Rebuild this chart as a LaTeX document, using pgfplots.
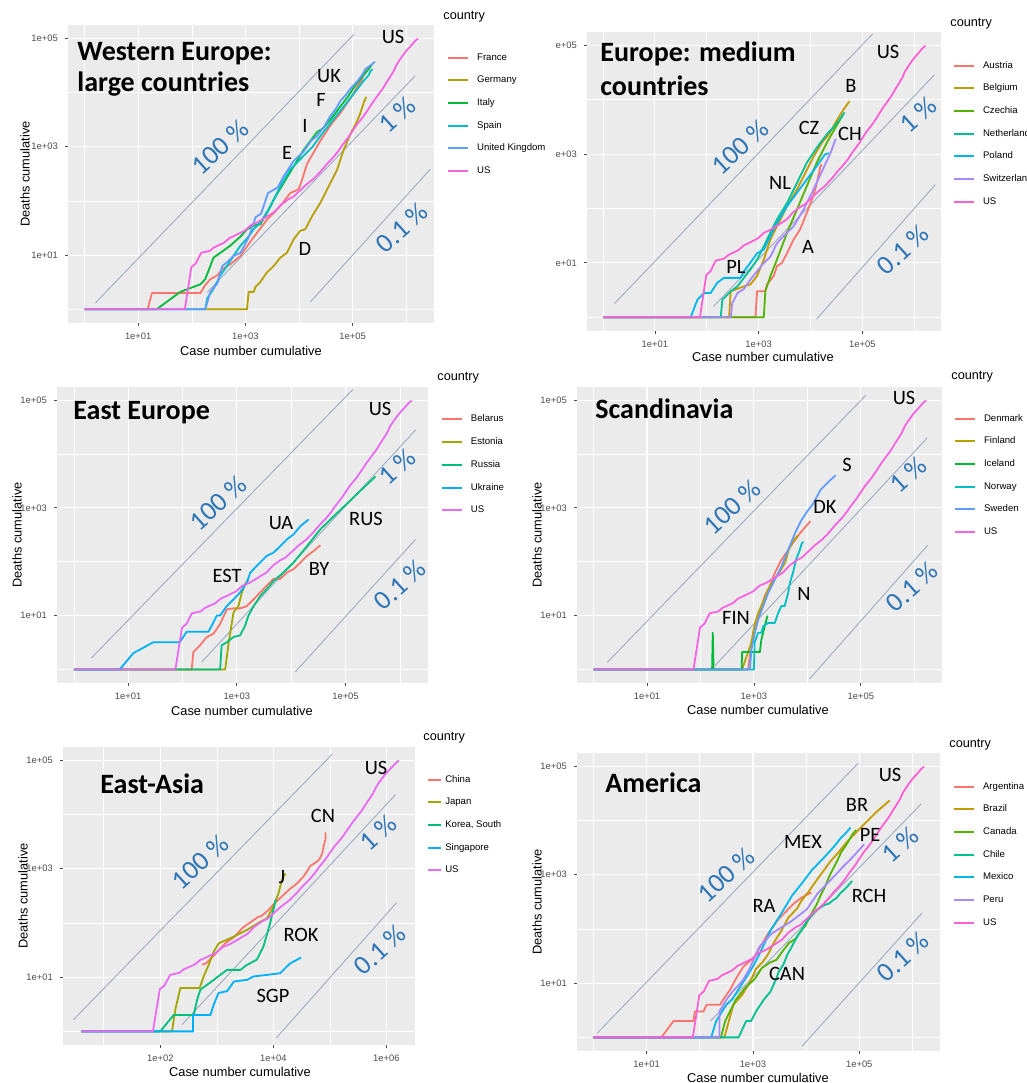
\documentclass[border=0pt]{standalone}
\usepackage{fontspec}
\usepackage{pgfplots}
\pgfplotsset{compat=1.18}
\newfontfamily\ggf{Liberation Sans}
\newfontfamily\calfont{Carlito}
\definecolor{ggbg}{HTML}{EBEBEB}
\definecolor{ggtk}{HTML}{4D4D4D}
\definecolor{reflc}{HTML}{A2B0C8}
\definecolor{pctb}{HTML}{2E75B6}
\definecolor{cA}{HTML}{F8766D}
\definecolor{sB}{HTML}{B79F00}
\definecolor{sC}{HTML}{00BA38}
\definecolor{sD}{HTML}{00BFC4}
\definecolor{sE}{HTML}{619CFF}
\definecolor{sF}{HTML}{F564E3}
\definecolor{tB}{HTML}{C49A00}
\definecolor{tC}{HTML}{53B400}
\definecolor{tD}{HTML}{00C094}
\definecolor{tE}{HTML}{00B6EB}
\definecolor{tF}{HTML}{A58AFF}
\definecolor{tG}{HTML}{FB61D7}
\definecolor{fB}{HTML}{A3A500}
\definecolor{fC}{HTML}{00BF7D}
\definecolor{fD}{HTML}{00B0F6}
\definecolor{fE}{HTML}{E76BF3}
\pgfplotsset{
  every axis/.append style={
    scale only axis, xmode=log, ymode=log,
    axis background/.style={fill=ggbg},
    axis line style={draw=none},
    xtick pos=left, ytick pos=left,
    tick align=outside, major tick length=1.6pt, minor tick length=0pt,
    tick style={ggtk, line width=0.4pt},
    grid=both, major grid style={white, line width=0.55pt}, minor grid style={white, line width=0.3pt},
    ymin=0.56, ymax=1.75e5,
    ytick={10,1000,100000}, minor ytick={1,100,10000},
    yticklabels={\mbox{1e+01},\mbox{1e+03},\mbox{1e+05}},
    xmin=0.49, xmax=3.3e6, xtick={10,1000,100000}, minor xtick={1,100,10000,1000000},
    xticklabels={\mbox{1e+01},\mbox{1e+03},\mbox{1e+05}},
    tick label style={font=\ggf\fontsize{4.7}{5}\selectfont, text=ggtk},
    xticklabel style={yshift=0pt},
    legend cell align=left,
    legend style={draw=none, fill=none, inner sep=0pt, outer sep=0pt, anchor=north west,
      row sep=7.05pt, column sep=4pt, font=\ggf\fontsize{4.8}{5}\selectfont,
      nodes={inner sep=0pt, text height=3.4pt, text depth=0.9pt}},
  },
  every axis plot/.append style={line width=0.9pt, line join=round},
}
\tikzset{
  refl/.style={reflc, line width=0.5pt},
  cl/.style={font=\calfont\fontsize{10.2}{11}\selectfont, inner sep=0pt, anchor=center},
  pc/.style={font=\calfont\fontsize{13.5}{14}\selectfont, text=pctb, rotate=42, inner sep=0pt},
  ttl/.style={font=\calfont\bfseries\fontsize{14}{15}\selectfont, anchor=base west, inner sep=0pt},
  axt/.style={font=\ggf\fontsize{6.4}{7}\selectfont, inner sep=0pt},
  lgt/.style={font=\ggf\fontsize{6.35}{7}\selectfont, anchor=west, inner sep=0pt},
}
\newcommand{\USdata}{(68,1) (74,1) (98,6) (118,7) (149,11) (217,12) (262,14) (402,17) (518,21) (583,22) (959,28) (1281,36) (1663,40) (2179,47) (2726,54) (3499,63) (4632,85) (6421,108) (7786,118) (13680,200) (19101,260) (25493,350) (33276,480) (43847,640) (53740,820) (65778,1100) (83836,1500) (101657,2000) (121465,2600) (140909,3100) (161831,3700) (188172,4600) (243453,6800) (311357,9500) (366667,11800) (432132,15500) (502876,19500) (580619,24500) (667801,33000) (784326,42094) (938154,53755) (1103461,65068) (1204351,71078) (1329260,79526) (1442824,87530) (1551853,93439) (1662302,98223)}
\begin{document}
\begin{tikzpicture}[x=0.5pt,y=-0.5pt]
\useasboundingbox (0,0) rectangle (1027,1083);

% ---------------- Panel 1
\begin{axis}[at={(34pt,-161.5pt)}, anchor=south west, width=183pt, height=149pt,
  legend image code/.code={\draw[#1, line width=1.0pt] (0pt,0pt) -- (10pt,0pt);},
  legend style={at={(1.036,0.905)}}]
\addplot[refl, forget plot] coordinates {(1.6,1.32) (1.05e5,1.17e5)};
\addplot[refl, forget plot] coordinates {(195,2.07) (1.48e6,2.04e4)};
\addplot[refl, forget plot] coordinates {(1.62e4,1.36) (2.82e6,385)};
\addplot[cA] coordinates {(1,1) (15,1) (18,2) (145,2) (178,2.8) (222,3.6) (296,4.2) (370,5.5) (527,6.8) (810,9.7) (1150,16) (1650,26) (2530,45) (4460,80) (6900,140) (9800,163) (11400,245) (14100,480) (25600,1333) (40000,2600) (57700,4040) (93800,8090) (125900,13200) (147900,17190) (156500,20290) (167300,24380) (176000,26600) (182900,28460)};
\addlegendentry{France}
\addplot[sB] coordinates {(178,1) (1070,1) (1150,2.1) (1430,2.1) (1540,2.6) (1900,3.2) (2520,4.8) (3370,6.3) (4480,9) (5950,11) (7920,19.5) (10500,28) (13100,30) (17500,52) (25000,92) (35700,185) (51000,370) (68000,870) (91000,1700) (118000,2800) (135000,3800) (147000,4900) (164000,6800) (180600,8300)};
\addlegendentry{Germany}
\addplot[sC] coordinates {(1,1) (22,1) (61,2.1) (145,2.9) (178,3.6) (255,9) (340,11) (525,15) (810,22) (1075,30) (1430,35) (1900,37) (2520,60) (3370,106) (5150,213) (7920,430) (12200,870) (21800,1870) (28000,2160) (41000,3400) (59000,5500) (80500,8200) (101700,11600) (124600,15360) (147500,18800) (172400,22700) (199400,26970) (230000,32900)};
\addlegendentry{Italy}
\addplot[sD] coordinates {(1,1) (178,1) (194,1.6) (255,2.4) (340,4.2) (455,6.3) (600,9.7) (810,15) (1150,22) (1430,30) (1900,40) (2960,80) (4480,185) (6900,380) (11700,650) (17963,1000) (25374,1600) (35136,2400) (49515,3700) (73235,6000) (104118,9400) (131646,12600) (158273,16100) (200210,20900) (215216,24800) (235400,26800)};
\addlegendentry{Spain}
\addplot[sE] coordinates {(1,1) (178,1) (222,2.1) (300,3) (370,6.3) (455,7.4) (600,9.7) (810,11) (1144,21) (1550,50) (1960,58) (2642,140) (3370,160) (4014,177) (5150,282) (8000,550) (12000,800) (17000,1300) (22000,1600) (29900,2400) (38000,3600) (48400,4950) (60000,7100) (74600,8960) (88600,11300) (99500,12900) (125900,16550) (150000,21000) (172500,26800) (200000,30000) (220400,31900) (261200,36900)};
\addlegendentry{United Kingdom}
\addplot[sF] coordinates {(1,1) \USdata};
\addlegendentry{US}
\end{axis}

% ---------------- Panel 2
\begin{axis}[at={(293.5pt,-165.5pt)}, anchor=south west, width=177pt, height=149.5pt,
  yticklabels={\mbox{e+01},\mbox{e+03},\mbox{e+05}},
  legend image code/.code={\draw[#1, line width=1.0pt] (0pt,0pt) -- (10pt,0pt);},
  legend style={at={(1.034,0.902)}}]
\addplot[refl, forget plot] coordinates {(1.66,1.79) (1.58e5,1.61e5)};
\addplot[refl, forget plot] coordinates {(135,1.58) (2.48e6,2.88e4)};
\addplot[refl, forget plot] coordinates {(1.32e4,0.93) (2.57e6,275)};
\addplot[cA] coordinates {(1,1) (870,1) (935,3) (1350,3) (1450,4) (1950,5.7) (2260,8.7) (2820,10) (3540,15) (4730,27) (6300,41) (8500,83) (10700,146) (12640,243) (13551,319) (14326,410) (14873,470) (15402,584) (16557,643)};
\addlegendentry{Austria}
\addplot[tB] coordinates {(1,1) (270,1) (290,3) (520,3.7) (690,4) (930,5.7) (1260,11.5) (1690,27) (2260,47) (3540,110) (5500,225) (7400,390) (11500,900) (16700,1630) (22200,2240) (26700,3020) (33600,4440) (40000,5830) (46100,7100) (50500,8020) (53800,8760) (57300,9310)};
\addlegendentry{Belgium}
\addplot[tC] coordinates {(1,1) (1260,1) (1350,3) (1690,5.7) (2260,11.5) (3540,36) (5500,96) (8500,257) (13200,690) (20600,1600) (30000,3000) (43000,5400)};
\addlegendentry{Czechia}
\addplot[tD] coordinates {(1,1) (186,1) (200,2.1) (290,3) (390,3.7) (520,5.3) (690,7.5) (935,11.5) (1260,20) (1690,36) (2260,63) (3540,126) (5500,295) (8500,690) (13200,1300) (20600,2300) (27000,3000) (32300,3700) (39800,4800) (45600,5830)};
\addlegendentry{Netherlands}
\addplot[tE] coordinates {(1,1) (49,1) (66,2.1) (89,2.8) (119,2.8) (159,4.3) (214,5.3) (447,5.3) (520,7) (690,10) (935,15) (1260,17.6) (1690,31) (2260,54) (3540,110) (5500,195) (8500,340) (13200,600) (19000,980) (22700,1040)};
\addlegendentry{Poland}
\addplot[tF] coordinates {(1,1) (290,1) (310,1.8) (390,2.8) (520,3.3) (690,4.9) (1260,10) (1690,13) (2260,23) (3000,31) (4730,47) (7400,96) (11500,225) (17800,550) (24500,1050) (27900,1480) (29600,1740) (30800,1900)};
\addlegendentry{Switzerland}
\addplot[tG] coordinates {(1,1) \USdata};
\addlegendentry{US}
\end{axis}

% ---------------- Panel 3
\begin{axis}[at={(28.5pt,-341.5pt)}, anchor=south west, width=185.5pt, height=148pt,
  legend image code/.code={\draw[#1, line width=1.0pt] (0pt,0pt) -- (10pt,0pt);},
  legend style={at={(1.035,0.905)}}]
\addplot[refl, forget plot] coordinates {(2.1,1.63) (1.36e5,1.57e5)};
\addplot[refl, forget plot] coordinates {(226,1.37) (1.95e6,2.79e4)};
\addplot[refl, forget plot] coordinates {(1.19e4,0.9) (1.95e6,260)};
\addplot[cA] coordinates {(1,1) (148,1) (158,2.1) (210,2.8) (280,4) (372,4.6) (492,7) (653,13) (870,13.6) (1150,13.6) (1530,15) (2040,20) (2700,27) (3560,36) (4760,48) (6300,48) (8360,63) (11100,73) (14800,97) (19600,128) (26000,159) (34500,202)};
\addlegendentry{Belarus}
\addplot[fB] coordinates {(1,1) (610,1) (710,3.2) (760,4.9) (870,11.5) (1070,15) (1240,27) (1420,38) (1640,48)};
\addlegendentry{Estonia}
\addplot[fC] coordinates {(1,1) (492,1) (525,2.8) (653,3.2) (870,4) (1150,4.3) (1420,6.5) (1640,10) (2040,15) (2700,23) (3560,31) (4760,44) (7200,63) (11100,97) (19600,195) (34500,400) (61000,700) (107000,1200) (190000,2100) (355000,3800)};
\addlegendentry{Russia}
\addplot[fD] coordinates {(1,1) (7,1) (12.4,2) (29,3.2) (89,3.2) (119,5) (300,5) (350,6.7) (428,10) (492,10) (653,15) (870,20) (1150,27) (1530,41) (1770,63) (2040,73) (2700,97) (3560,128) (4760,148) (6300,195) (8360,260) (11100,323) (14800,457) (21000,610)};
\addlegendentry{Ukraine}
\addplot[fE] coordinates {(1,1) \USdata};
\addlegendentry{US}
\end{axis}

% ---------------- Panel 4
\begin{axis}[at={(288.5pt,-341.5pt)}, anchor=south west, width=182.5pt, height=148pt,
  legend image code/.code={\draw[#1, line width=1.0pt] (0pt,0pt) -- (10pt,0pt);},
  legend style={at={(1.033,0.908)}}]
\addplot[refl, forget plot] coordinates {(1.8,1.35) (1.24e5,1.23e5)};
\addplot[refl, forget plot] coordinates {(186,1.17) (1.74e6,1.98e4)};
\addplot[refl, forget plot] coordinates {(1.1e4,0.667) (1.78e6,202)};
\addplot[cA] coordinates {(1,1) (780,1) (840,1.8) (960,3.6) (1110,7.3) (1290,11) (1590,23) (1970,35) (2450,61) (3250,107) (4350,163) (5800,250) (7600,357) (11400,565)};
\addlegendentry{Denmark}
\addplot[sB] coordinates {(1,1) (600,1) (880,3) (1040,7) (1200,11) (1446,17) (1840,30) (2300,45) (2769,56) (3300,75) (3868,98) (4500,170) (5051,218) (5880,265) (6599,306)};
\addlegendentry{Finland}
\addplot[sC] coordinates {(1,1) (165,1) (170,4.8) (176,1) (590,1) (600,2.1) (1290,2.1) (1380,3.6) (1590,6.3) (1780,9.7) (1800,10)};
\addlegendentry{Iceland}
\addplot[sD] coordinates {(1,1) (1000,1) (1030,3.2) (1200,4.8) (1380,4.8) (1490,6.3) (1840,7.3) (2450,7.3) (2830,11) (3250,15) (3760,15) (4350,26) (4665,39) (5370,62) (6211,113) (7225,165) (7738,210) (8383,235)};
\addlegendentry{Norway}
\addplot[sE] coordinates {(1,1) (840,1) (900,2.4) (1040,4.8) (1200,8.4) (1490,15) (1840,26) (2450,46) (3250,80) (4350,163) (5800,330) (7600,575) (10200,890) (12700,1180) (15500,1700) (17567,2150) (21092,2590) (26322,3225) (33843,4029)};
\addlegendentry{Sweden}
\addplot[sF] coordinates {(1,1) \USdata};
\addlegendentry{US}
\end{axis}

% ---------------- Panel 5
\begin{axis}[at={(31.5pt,-522.5pt)}, anchor=south west, width=176pt, height=149pt,
  xmin=1.9, xmax=3.2e6, xtick={100,10000,1000000}, minor xtick={10,1000,100000},
  xticklabels={\mbox{1e+02},\mbox{1e+04},\mbox{1e+06}},
  legend image code/.code={\draw[#1, line width=1.0pt] (0pt,0pt) -- (6.35pt,0pt);},
  legend style={at={(1.034,0.905)}, column sep=1.8pt}]
\addplot[refl, forget plot] coordinates {(2.92,1.65) (1.1e5,1.29e5)};
\addplot[refl, forget plot] coordinates {(242,1.33) (1.44e6,2.31e4)};
\addplot[refl, forget plot] coordinates {(1.13e4,0.76) (1.5e6,234)};
\addplot[cA] coordinates {(548,17) (643,18) (920,26) (1406,42) (2075,56) (2877,82) (5509,131) (6087,133) (8141,171) (9802,213) (11891,259) (16630,361) (19716,425) (23707,490) (27440,563) (30587,634) (34110,717) (36814,805) (39829,904) (42354,1011) (44386,1111) (44759,1116) (59895,1368) (66358,1520) (68413,1666) (70513,1770) (72434,1868) (74211,2007) (74619,2122) (75077,2247) (75550,2251) (77001,2443) (77022,2595) (78166,2719) (79294,2838) (80026,2944) (80738,3015) (81000,3135) (81400,3260) (82000,3300) (82600,3330) (83300,3340) (83700,4640) (84100,4640)};
\addlegendentry{China}
\addplot[fB] coordinates {(4,1) (161,1) (184,2.5) (226,6.3) (497,6.3) (585,10.3) (716,16.8) (880,29.5) (1080,42) (2000,56) (3400,74) (5900,105) (7700,121) (10000,198) (12300,350) (14100,610) (16300,820)};
\addlegendentry{Japan}
\addplot[fC] coordinates {(4,1) (100,1) (172,2) (390,2) (447,3.8) (513,5.9) (670,7.2) (880,8.9) (1150,11) (1510,13.6) (2620,13.6) (3400,16.8) (5100,21) (6700,37) (8652,94) (9887,165) (10450,208) (10774,250) (11206,269)};
\addlegendentry{Korea, South}
\addplot[fD] coordinates {(4,1) (380,1) (380,2) (770,2) (880,3.1) (1070,5.1) (1510,5.5) (1740,6.7) (2000,8.3) (3400,8.9) (4470,10.3) (7700,11) (13200,11.8) (15100,13.6) (19900,18) (22900,19.4) (31000,23)};
\addlegendentry{Singapore}
\addplot[fE] coordinates {(4,1) \USdata};
\addlegendentry{US}
\end{axis}

% ---------------- Panel 6
\begin{axis}[at={(288.5pt,-525.5pt)}, anchor=south west, width=181.5pt, height=149pt,
  legend image code/.code={\draw[#1, line width=1.0pt] (0pt,0pt) -- (10pt,0pt);},
  legend style={at={(1.036,0.902)}}]
\addplot[refl, forget plot] coordinates {(1.18,1.2) (9.7e4,1.15e5)};
\addplot[refl, forget plot] coordinates {(158,2.0) (1.45e6,2.0e4)};
\addplot[refl, forget plot] coordinates {(8300,0.68) (1.51e6,195)};
\addplot[cA] coordinates {(1,1) (19,1) (32,2) (76,2) (81,3) (117,3) (135,4) (240,4) (277,5) (370,7.5) (500,13) (660,20) (1050,30) (1900,80) (3000,150) (4400,220) (6000,300) (8000,370) (10000,420) (12600,470)};
\addlegendentry{Argentina}
\addplot[tB] coordinates {(1,1) (290,1) (428,4) (621,6) (904,11) (1128,18) (1546,25) (1924,34) (2247,46) (2554,59) (3417,92) (4579,159) (6836,241) (8044,324) (11130,486) (15927,800) (19638,1057) (28320,1736) (40743,2587) (58509,4016) (91589,6329) (114715,7921) (162699,11123) (220291,14962) (291579,18859) (374898,23473)};
\addlegendentry{Brazil}
\addplot[tC] coordinates {(1,1) (250,1) (300,2) (480,5) (700,8) (1087,12) (1470,19) (2088,24) (2790,27) (3409,36) (4757,55) (6280,65) (8527,101) (9560,112) (12437,187) (15756,280) (19141,435) (22148,569) (28364,1010) (37658,1725) (45354,2560) (55061,3391) (62458,4111) (69156,4871) (75675,5660) (80493,6031) (86647,6655)};
\addlegendentry{Canada}
\addplot[tD] coordinates {(1,1) (537,1) (746,2) (922,2) (1142,3) (1610,5) (2139,7) (2738,12) (3031,16) (3737,22) (4471,34) (5116,43) (5972,57) (7213,80) (8273,94) (10088,133) (12858,181) (16023,227) (22016,275) (27219,294) (31721,335) (37040,368) (43781,450) (53617,544) (61857,630) (69102,718) (73997,761)};
\addlegendentry{Chile}
\addplot[tE] coordinates {(1,1) (118,1) (164,1) (203,2) (316,4) (405,5) (717,12) (993,20) (1378,37) (2143,94) (3441,194) (5399,406) (8261,686) (12872,1221) (20739,1972) (26025,2507) (35022,3465) (45032,4767) (54346,5666) (68620,7394)};
\addlegendentry{Mexico}
\addplot[tF] coordinates {(1,1) (234,1) (234,3) (318,5) (416,7) (635,11) (852,18) (1323,47) (2281,83) (5256,138) (10303,230) (16325,445) (25331,700) (40459,1124) (47372,1344) (67307,1889) (84495,2392) (104020,3024) (123979,3629)};
\addlegendentry{Peru}
\addplot[tG] coordinates {(1,1) \USdata};
\addlegendentry{US}
\end{axis}

% ---------------- Text: titles
\node[ttl] at (77,60) {Western Europe:};
\node[ttl] at (77,91) {large countries};
\node[ttl] at (600,61) {Europe: medium};
\node[ttl] at (600,95) {countries};
\node[ttl] at (73,419) {East Europe};
\node[ttl] at (595,418) {Scandinavia};
\node[ttl] at (100,793) {East-Asia};
\node[ttl] at (605,792) {America};

% country labels
\node[cl] at (393,37) {US}; \node[cl] at (329,76) {UK}; \node[cl] at (321,100) {F};
\node[cl] at (305,126) {I}; \node[cl] at (287,153) {E}; \node[cl] at (305,249) {D};
\node[cl] at (888,52) {US}; \node[cl] at (851,86) {B}; \node[cl] at (809,128) {CZ};
\node[cl] at (850,134) {CH}; \node[cl] at (780,183) {NL}; \node[cl] at (808,247) {A};
\node[cl] at (736,267) {PL};
\node[cl] at (380,409) {US}; \node[cl] at (281,523) {UA}; \node[cl] at (366,519) {RUS};
\node[cl] at (227,576) {EST}; \node[cl] at (319,569) {BY};
\node[cl] at (904,398) {US}; \node[cl] at (847,465) {S}; \node[cl] at (825,507) {DK};
\node[cl] at (804,594) {N}; \node[cl] at (736,618) {FIN};
\node[cl] at (376,768) {US}; \node[cl] at (323,816) {CN}; \node[cl] at (282,877) {J};
\node[cl] at (301,935) {ROK}; \node[cl] at (273,996) {SGP};
\node[cl] at (890,775) {US}; \node[cl] at (857,805) {BR}; \node[cl] at (803,842) {MEX};
\node[cl] at (870,835) {PE}; \node[cl] at (764,906) {RA}; \node[cl] at (869,896) {RCH};
\node[cl] at (787,974) {CAN};

% percentage labels
\node[pc] at (220,147) {100 \%}; \node[pc] at (397,115) {1 \%}; \node[pc] at (402,228) {0.1 \%};
\node[pc] at (740,147) {100 \%}; \node[pc] at (918,115) {1 \%}; \node[pc] at (903,250) {0.1 \%};
\node[pc] at (218,503) {100 \%}; \node[pc] at (397,467) {1 \%}; \node[pc] at (400,585) {0.1 \%};
\node[pc] at (732,507) {100 \%}; \node[pc] at (908,475) {1 \%}; \node[pc] at (912,587) {0.1 \%};
\node[pc] at (200,862) {100 \%}; \node[pc] at (378,833) {1 \%}; \node[pc] at (380,950) {0.1 \%};
\node[pc] at (726,875) {100 \%}; \node[pc] at (900,845) {1 \%}; \node[pc] at (903,957) {0.1 \%};

% axis titles
\node[axt] at (251,351) {Case number cumulative};
\node[axt, rotate=90] at (25,174) {Deaths cumulative};
\node[axt] at (763,357) {Case number cumulative};
\node[axt] at (242,711) {Case number cumulative};
\node[axt, rotate=90] at (17,535) {Deaths cumulative};
\node[axt] at (758,710) {Case number cumulative};
\node[axt, rotate=90] at (537,535) {Deaths cumulative};
\node[axt] at (240,1072) {Case number cumulative};
\node[axt, rotate=90] at (23,896) {Deaths cumulative};
\node[axt] at (758,1078) {Case number cumulative};
\node[axt, rotate=90] at (537,902) {Deaths cumulative};

% legend titles
\node[lgt] at (443,17) {country};
\node[lgt] at (950,24) {country};
\node[lgt] at (437,378) {country};
\node[lgt] at (951,377) {country};
\node[lgt] at (423,738) {country};
\node[lgt] at (949,745) {country};
\end{tikzpicture}
\end{document}
